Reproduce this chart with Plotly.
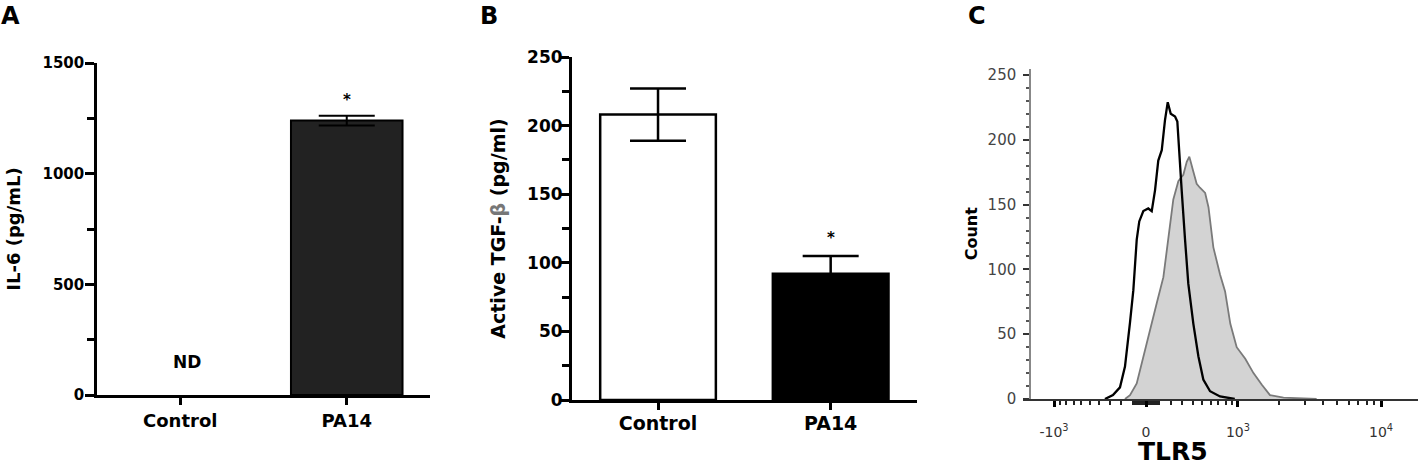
import numpy as np
import plotly.graph_objects as go

W, H = 1418, 467

# ---------------- data ----------------
# Panel A: IL-6 (Control not detected -> no bar)
a_categories = ["Control", "PA14"]
a_values = [None, 1240]
a_errors = [None, 22]
# Panel B: Active TGF-beta
b_categories = ["Control", "PA14"]
b_values = [208, 92]
b_errors = [19, 13]
# Panel C: TLR5 flow histogram (fluorescence intensity, count)
ctrl_intensity = [-345, -271, -210, -168, -127, -100, -73, -53, -21, 18, 45, 71, 97, 125,
                  151, 174, 199, 236, 256, 274, 295, 326, 357, 407, 459, 513, 592, 721, 945]
ctrl_count = [0, 3, 9, 25, 59, 84, 123, 137, 145, 147, 145, 161, 184, 192,
              215, 229, 220, 218, 214, 187, 161, 123, 89, 58, 33, 15, 6, 2, 0]
tlr5_intensity = [-168, -127, -73, -21, 31, 85, 138, 179, 221, 265, 310, 342, 367, 401,
                  441, 476, 534, 573, 633, 721, 793, 873, 978, 1135, 1305, 1500, 1715,
                  2135, 3625]
tlr5_count = [0, 3, 12, 33, 53, 74, 94, 125, 154, 168, 173, 183, 187, 177,
              166, 163, 159, 148, 117, 96, 83, 58, 40, 31, 20, 11, 3, 1, 0]
c_tick_values = [-1000, 0, 1000, 10000]
c_tick_labels = ["-10<sup>3</sup>", "0", "10<sup>3</sup>", "10<sup>4</sup>"]
COF = 500.0  # biexponential (arcsinh) cofactor


def biex(v):
    return np.arcsinh(np.asarray(v, dtype=float) / COF)


FONT = "DejaVu Sans, Verdana, sans-serif"


def px_x(p):
    return p / W


def px_y(p):
    return 1 - p / H


def bf(size, color="#000000"):
    return dict(family=FONT, size=size, color=color, weight="bold")


fig = go.Figure()

# ---- Panel A ----
fig.add_trace(go.Bar(
    x=a_categories, y=a_values, width=0.67,
    marker=dict(color="#222222", line=dict(color="#000000", width=2)),
    error_y=dict(type="data", array=a_errors, visible=True, color="#000000",
                 thickness=2, width=28),
    xaxis="x", yaxis="y", showlegend=False))

# ---- Panel B ----
fig.add_trace(go.Bar(
    x=b_categories, y=b_values, width=0.67,
    marker=dict(color=["#ffffff", "#000000"], line=dict(color="#000000", width=2.5)),
    error_y=dict(type="data", array=b_errors, visible=True, color="#000000",
                 thickness=2.5, width=28),
    xaxis="x2", yaxis="y2", showlegend=False))

# ---- Panel C ----
fig.add_trace(go.Scatter(
    x=biex(tlr5_intensity), y=tlr5_count, mode="lines", fill="tozeroy",
    fillcolor="#d3d3d3", line=dict(color="#7a7a7a", width=1.8),
    xaxis="x3", yaxis="y3", showlegend=False))
fig.add_trace(go.Scatter(
    x=biex(ctrl_intensity), y=ctrl_count, mode="lines",
    line=dict(color="#000000", width=2.3),
    xaxis="x3", yaxis="y3", showlegend=False))

axis_common = dict(showline=True, linecolor="#000000", linewidth=2.5, ticks="outside",
                   tickwidth=2.5, tickcolor="#000000", showgrid=False, zeroline=False,
                   automargin=False)

c_minor = ([-v for v in range(100, 1000, 100)] + [-v for v in range(10, 100, 10)] +
           list(range(10, 100, 10)) + list(range(100, 1000, 100)) +
           list(range(2000, 10000, 1000)))

fig.update_layout(
    width=W, height=H,
    margin=dict(l=0, r=0, t=0, b=0),
    paper_bgcolor="#ffffff", plot_bgcolor="#ffffff",
    font=dict(family=FONT, color="#000000"),
    xaxis=dict(**axis_common, domain=[px_x(97), px_x(430)], anchor="y",
               range=[-0.5, 1.5], ticklen=7, tickfont=bf(18),
               ticklabelstandoff=1),
    yaxis=dict(**axis_common, domain=[px_y(395), px_y(63)], anchor="x",
               range=[0, 1500], tickvals=[0, 500, 1000, 1500], ticklen=9,
               minor=dict(tickvals=[250, 750, 1250], ticklen=7, tickwidth=2.5,
                          ticks="outside", tickcolor="#000000"),
               tickfont=bf(15), ticklabelstandoff=-2,
               title=dict(text="IL-6 (pg/mL)", standoff=18, font=bf(18))),
    xaxis2=dict(**axis_common, domain=[px_x(571.7), px_x(917)], anchor="y2",
                range=[-0.5, 1.5], ticklen=7, tickfont=bf(19),
                ticklabelstandoff=-3),
    yaxis2=dict(**axis_common, domain=[px_y(400), px_y(57)], anchor="x2",
                range=[0, 250], tickvals=[0, 50, 100, 150, 200, 250], ticklen=8,
                minor=dict(tickvals=[25, 75, 125, 175, 225], ticklen=7, tickwidth=2.5,
                           ticks="outside", tickcolor="#000000"),
                tickfont=bf(17), ticklabelstandoff=-5,
                title=dict(text="Active TGF-<span style='color:#777'>β</span> (pg/ml)",
                           standoff=17, font=bf(19))),
    xaxis3=dict(showline=True, linecolor="#333333", linewidth=2, ticks="outside",
                tickcolor="#000000", tickwidth=3, ticklen=6, showgrid=False,
                zeroline=False, automargin=False, domain=[px_x(1023), 1], anchor="y3",
                range=[(1023 - 1146) / 63.7, (1418 - 1146) / 63.7],
                tickvals=biex(c_tick_values).tolist(), ticktext=c_tick_labels,
                minor=dict(tickvals=biex(c_minor).tolist(), ticklen=4, tickwidth=2,
                           ticks="outside", tickcolor="#222222"),
                tickfont=dict(family=FONT, size=14, color="#333333"),
                ticklabelstandoff=13),
    yaxis3=dict(showline=True, linecolor="#888888", linewidth=1.5, ticks="outside",
                tickcolor="#333333", tickwidth=2, ticklen=6, showgrid=False,
                zeroline=False, automargin=False,
                domain=[px_y(399), px_y(68.5)], anchor="free",
                position=px_x(1030),
                range=[0, 255], tickvals=[0, 50, 100, 150, 200, 250],
                minor=dict(dtick=10, ticklen=3, tickwidth=1.5, ticks="outside",
                           tickcolor="#555555"),
                tickfont=dict(family=FONT, size=15, color="#444444"),
                ticklabelstandoff=4,
                title=dict(text="Count", standoff=5, font=bf(16))),
)

# panel letters and annotations
for letter, xp in [("A", 10), ("B", 489), ("C", 977)]:
    fig.add_annotation(text=letter, xref="paper", yref="paper", xanchor="center",
                       yanchor="middle", x=px_x(xp), y=px_y(16), showarrow=False,
                       font=bf(24))

fig.add_annotation(text="TLR5", xref="paper", yref="paper", xanchor="center",
                   yanchor="bottom", x=px_x(1173), y=0, borderpad=0, showarrow=False,
                   font=bf(25))
fig.add_annotation(text="ND", x="Control", y=150, xref="x", yref="y", xshift=7,
                   showarrow=False, font=bf(17))
fig.add_annotation(text="*", x="PA14", y=1335, xref="x", yref="y",
                   showarrow=False, font=bf(15))
fig.add_annotation(text="*", x="PA14", y=118, xref="x2", yref="y2",
                   showarrow=False, font=bf(15))

fig.write_html("out.html", config={"displayModeBar": False},
               post_script="document.body.style.margin='0';document.body.style.padding='0';")
